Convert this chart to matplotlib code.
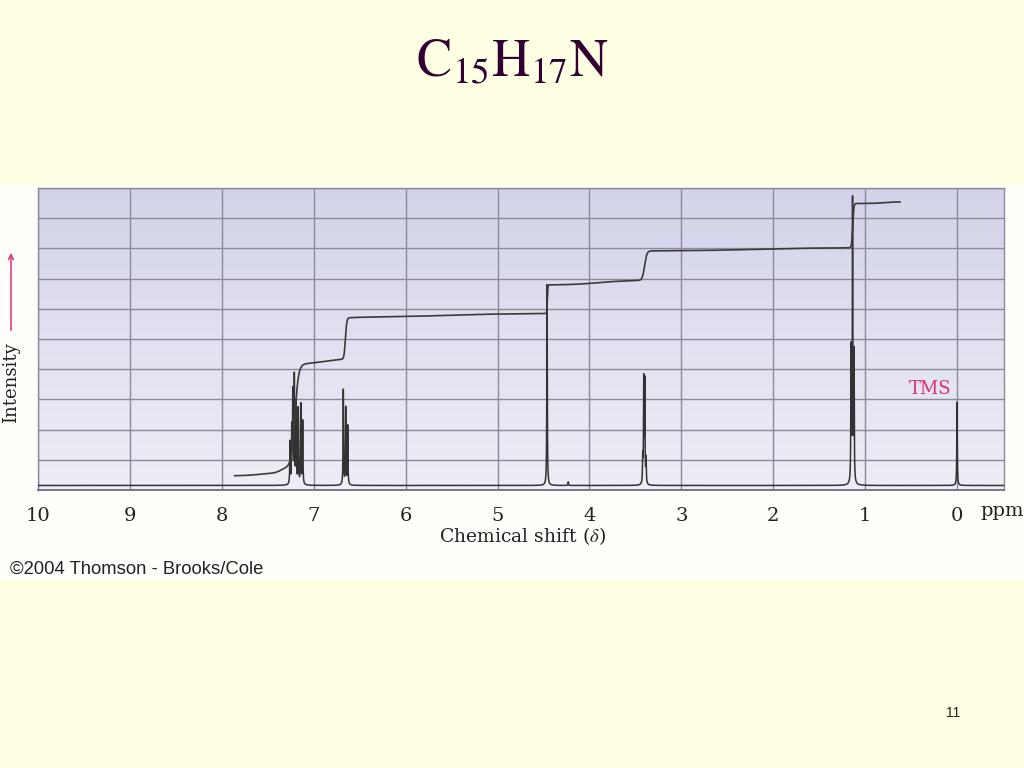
import numpy as np
import matplotlib
matplotlib.use("Agg")
import matplotlib.pyplot as plt
from matplotlib.patches import FancyArrowPatch
from matplotlib.colors import LinearSegmentedColormap

plt.rcParams['mathtext.fontset'] = 'stix'

# ---------------- data ----------------
# 1H NMR peaks: chemical shift (ppm) and line height above baseline (grid units)
peak_ppm = [7.258, 7.239, 7.228, 7.211, 7.192, 7.168, 7.141, 7.120,
            6.678, 6.652, 6.630,
            4.461, 4.23,
            3.420, 3.409, 3.398, 3.384,
            1.153, 1.137, 1.121,
            0.0]
peak_height = [1.4, 1.8, 3.0, 3.55, 2.7, 2.5, 2.65, 2.1,
               3.15, 2.55, 1.95,
               6.65, 0.12,
               0.85, 3.4, 3.35, 0.8,
               4.4, 9.3, 4.25,
               2.76]
baseline_level = 0.15

# integration trace: start level and steps (centre ppm, rise, width)
integral_start_ppm = 7.86
integral_end_ppm = 0.62
integral_start_level = 0.47
step_center = [7.62, 7.36, 7.205, 6.90, 6.655, 5.6, 4.458, 3.9, 3.40, 2.2, 1.135, 0.8]
step_rise = [0.08, 0.20, 3.40, 0.20, 1.37, 0.12, 0.95, 0.15, 0.98, 0.10, 1.47, 0.05]
step_width = [0.15, 0.07, 0.04, 0.25, 0.015, 0.6, 0.006, 0.3, 0.025, 0.6, 0.012, 0.1]

x_ticks = [10, 9, 8, 7, 6, 5, 4, 3, 2, 1, 0]
tick_labels = ["10", "9", "8", "7", "6", "5", "4", "3", "2", "1", "0"]

# ---------------- figure ----------------
W, H = 1024, 768
fig = plt.figure(figsize=(10.24, 7.68), dpi=100, facecolor='#FFFFE3')

def fx(px):
    return px / W

def fy(py):
    return 1 - py / H

# white band of the scanned figure (background axes)
band = fig.add_axes([0, fy(580), 1, (580 - 185) / H], zorder=-5)
band.set_facecolor('#FEFEFA')
band.set_xticks([])
band.set_yticks([])
for s in band.spines.values():
    s.set_visible(False)

ax = fig.add_axes([fx(38), fy(490), (1004 - 38) / W, (490 - 188) / H], zorder=1)
xmin, xmax = 10, -0.511
ax.set_xlim(xmin, xmax)
ax.set_ylim(0, 10)

bg = LinearSegmentedColormap.from_list('bg', ['#D3D3EA', '#EEEEF6'])
ax.imshow(np.linspace(0, 1, 256).reshape(-1, 1), extent=[xmin, xmax, 0, 10],
          aspect='auto', cmap=bg, origin='upper', zorder=0)

ax.set_xticks(x_ticks)
ax.set_xticklabels(tick_labels, fontfamily='DejaVu Serif', fontsize=14, color='#222222')
ax.set_yticks(range(0, 11))
ax.tick_params(axis='x', length=0, pad=12)
ax.tick_params(axis='y', length=0, labelleft=False)
ax.set_axisbelow(True)
ax.grid(True, color='#8A8A9A', lw=1.0)
for side in ['top', 'left', 'right']:
    ax.spines[side].set_color('#8A8A9A')
    ax.spines[side].set_linewidth(1.0)
ax.spines['bottom'].set_color('#6E6E7E')
ax.spines['bottom'].set_linewidth(1.3)

# spectrum
x = np.linspace(xmin, xmax, 60000)
hw = 0.003
y = np.full_like(x, baseline_level)
for c, h in zip(peak_ppm, peak_height):
    y += h / (1 + ((x - c) / hw) ** 2)
ax.plot(x, y, color='#333333', lw=1.1, zorder=3)

# integral trace
xi = np.linspace(integral_start_ppm, integral_end_ppm, 20000)
yi = np.full_like(xi, integral_start_level)
for c, r, w in zip(step_center, step_rise, step_width):
    yi += r * 0.5 * (1 + np.tanh((c - xi) / w))
ax.plot(xi, yi, color='#3A3A3A', lw=1.2, zorder=3)

# labels
fig.text(fx(1002), fy(511), 'ppm', ha='center', va='center',
         fontfamily='DejaVu Serif', fontsize=14, color='#222222')
fig.text(fx(522), fy(536), 'Chemical shift ($\\delta$)', ha='center', va='center',
         fontfamily='DejaVu Serif', fontsize=13.5, color='#222222')
fig.text(fx(11), fy(383), 'Intensity', ha='center', va='center', rotation=90,
         fontfamily='DejaVu Serif', fontsize=13, color='#222222')
fig.add_artist(FancyArrowPatch((fx(11), fy(333)), (fx(11), fy(250)),
                               transform=fig.transFigure, arrowstyle='->',
                               mutation_scale=9, color='#E0407F', lw=1.2))
fig.text(fx(930), fy(389), 'TMS', ha='center', va='center',
         fontfamily='DejaVu Serif', fontsize=13, color='#D8307A')
fig.text(fx(10), fy(569), '\u00a92004 Thomson - Brooks/Cole', ha='left', va='center',
         fontfamily='Liberation Sans', fontsize=13.3, color='#222222')

# title
fig.text(0.5, fy(76), r'$\mathrm{C_{15}H_{17}N}$', ha='center', va='baseline',
         fontsize=38, color='#330033')
fig.text(fx(953), fy(713), '11', ha='center', va='center',
         fontfamily='Liberation Sans', fontsize=10, color='#222222')

fig.savefig('out.png', dpi=100, facecolor=fig.get_facecolor())
